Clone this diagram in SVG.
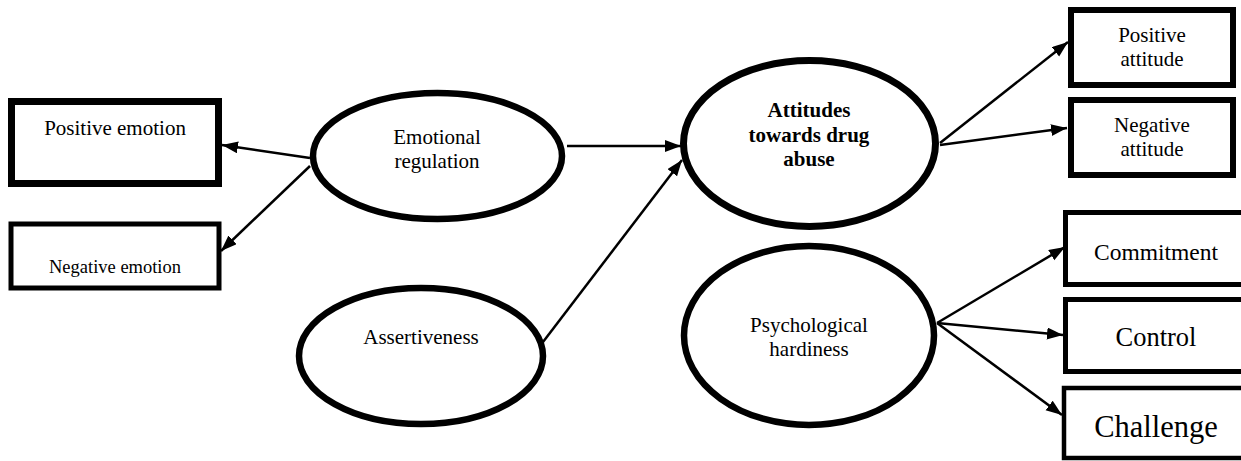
<svg xmlns="http://www.w3.org/2000/svg" width="1241" height="461" viewBox="0 0 1241 461">
<defs>
<style>
.box{fill:#fff;stroke:#000}
.ell{fill:#fff;stroke:#000}
.t{font-family:"Liberation Serif","Times New Roman",serif;fill:#000;text-anchor:middle}
.b{font-weight:bold}
.c{stroke:#000;stroke-width:2.5;fill:none;marker-end:url(#ah)}
</style>
<marker id="ah" markerUnits="userSpaceOnUse" markerWidth="18" markerHeight="13" refX="16" refY="6" orient="auto">
<path d="M0,0 L16,6 L0,12 z" fill="#000"/>
</marker>
</defs>
<rect width="1241" height="461" fill="#fff"/>
<g id="connectors">
<line class="c" x1="310" y1="158" x2="222" y2="145"/>
<line class="c" x1="310" y1="166" x2="221" y2="251"/>
<line class="c" x1="567" y1="146" x2="681" y2="146"/>
<line class="c" x1="543" y1="342" x2="682" y2="160"/>
<line class="c" x1="940" y1="143" x2="1068" y2="42"/>
<line class="c" x1="940" y1="145" x2="1067" y2="128"/>
<line class="c" x1="937" y1="323" x2="1065" y2="247"/>
<line class="c" x1="937" y1="323" x2="1063" y2="335"/>
<line class="c" x1="937" y1="323" x2="1062" y2="415"/>
</g>
<g id="positive-emotion">
<rect class="box" x="11.5" y="101.5" width="207" height="82" stroke-width="7"/>
<text class="t" x="115" y="135" font-size="21">Positive emotion</text>
</g>
<g id="negative-emotion">
<rect class="box" x="11" y="224" width="208" height="64" stroke-width="5"/>
<text class="t" x="115" y="273" font-size="18.5">Negative emotion</text>
</g>
<g id="emotional-regulation">
<ellipse class="ell" cx="437.5" cy="156" rx="124.5" ry="63" stroke-width="6.5"/>
<text class="t" x="437" y="144" font-size="21">Emotional</text>
<text class="t" x="437" y="168" font-size="21">regulation</text>
</g>
<g id="assertiveness">
<ellipse class="ell" cx="421" cy="356" rx="122" ry="68" stroke-width="6.5"/>
<text class="t" x="421" y="344" font-size="21">Assertiveness</text>
</g>
<g id="attitudes">
<ellipse class="ell" cx="809.5" cy="143.5" rx="126" ry="83" stroke-width="7"/>
<text class="t b" x="809" y="117" font-size="21">Attitudes</text>
<text class="t b" x="809" y="142" font-size="21">towards drug</text>
<text class="t b" x="809" y="166" font-size="21">abuse</text>
</g>
<g id="psychological-hardiness">
<ellipse class="ell" cx="809" cy="335.5" rx="125" ry="89.5" stroke-width="6.5"/>
<text class="t" x="809" y="332" font-size="21">Psychological</text>
<text class="t" x="809" y="356" font-size="21">hardiness</text>
</g>
<g id="positive-attitude">
<rect class="box" x="1071" y="10" width="162" height="75" stroke-width="6"/>
<text class="t" x="1152" y="42" font-size="21">Positive</text>
<text class="t" x="1152" y="66" font-size="21">attitude</text>
</g>
<g id="negative-attitude">
<rect class="box" x="1071" y="100" width="162" height="75" stroke-width="6"/>
<text class="t" x="1152" y="132" font-size="21">Negative</text>
<text class="t" x="1152" y="156" font-size="21">attitude</text>
</g>
<g id="commitment">
<rect class="box" x="1065.5" y="212.5" width="190" height="72" stroke-width="5"/>
<text class="t" x="1156" y="260" font-size="23.5">Commitment</text>
</g>
<g id="control">
<rect class="box" x="1065.5" y="299.5" width="190" height="72" stroke-width="5"/>
<text class="t" x="1156" y="346" font-size="26.5">Control</text>
</g>
<g id="challenge">
<rect class="box" x="1064" y="388" width="190" height="70" stroke-width="4.5"/>
<text class="t" x="1156" y="437" font-size="30.5">Challenge</text>
</g>
</svg>
